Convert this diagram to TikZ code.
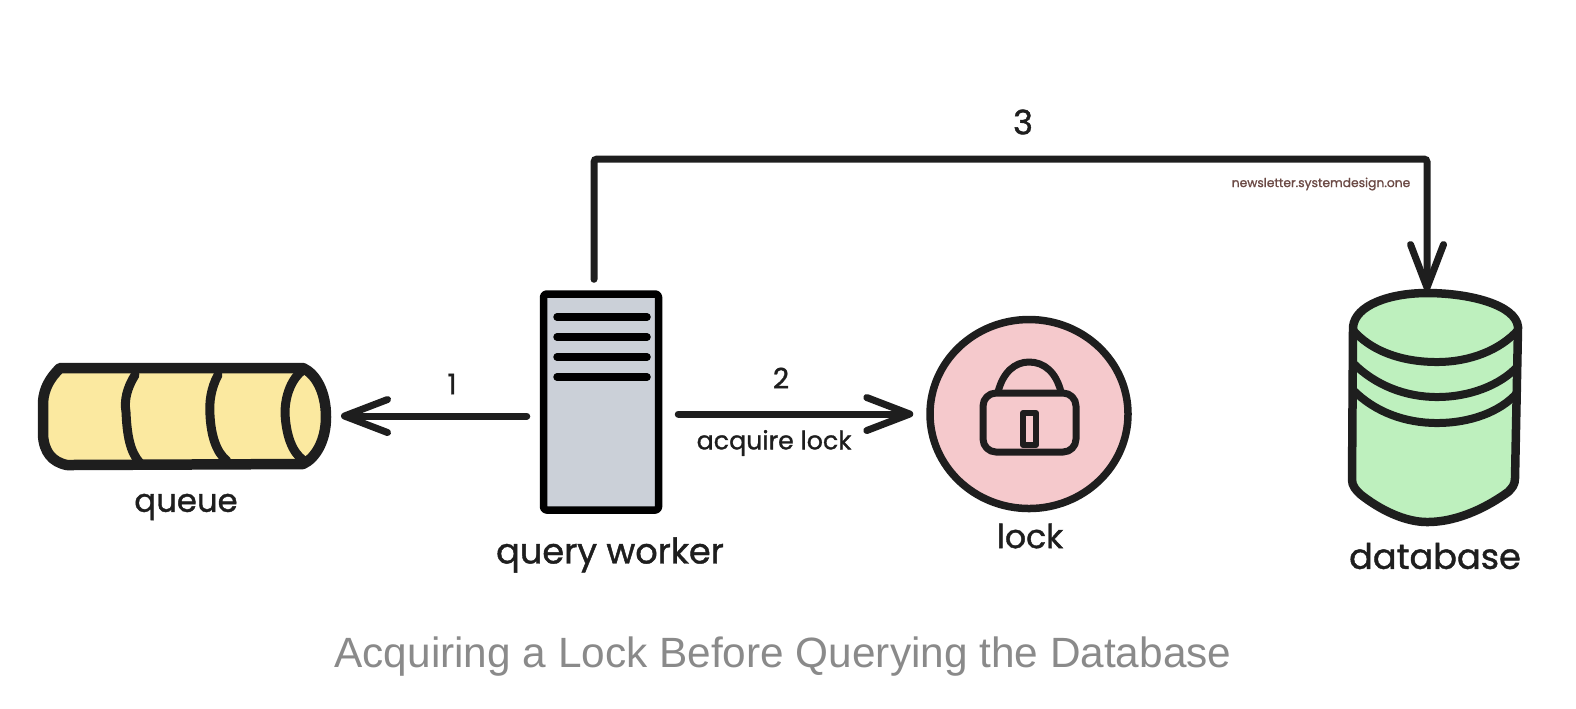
\documentclass[tikz,border=0pt]{standalone}
\usepackage{fontspec}
\setmainfont{Liberation Sans}
\newfontfamily\handfont[FakeBold=1.2]{Poppins}
\usetikzlibrary{arrows.meta,shapes.geometric}
\definecolor{inkline}{HTML}{1E1E1E}
\definecolor{queuefill}{HTML}{FBE9A0}
\definecolor{workerfill}{HTML}{CBD0D8}
\definecolor{lockfill}{HTML}{F5C9CC}
\definecolor{dbfill}{HTML}{BEF0BE}
\definecolor{markcolor}{HTML}{6B4A45}
\definecolor{captioncolor}{HTML}{8A8A8A}
\tikzset{
	sketch/.style={draw=inkline, line width=0.8mm, line join=round, line cap=round},
	flow/.style={draw=inkline, line width=0.7mm, line cap=round, -{Straight Barb[round,length=4.3mm,width=3.3mm]}},
	hand/.style={text=inkline, inner sep=0pt, font=\handfont\fontsize{#1}{#1}\selectfont},
	ghost/.style={inner sep=0pt, outer sep=0pt}
}
\begin{document}
\begin{tikzpicture}[x=0.1mm, y=-0.1mm]
	\useasboundingbox (0,0) rectangle (1576,708);

	% Queue
	\node[ghost, minimum width=29.2mm, minimum height=10.6mm] (queue) at (184,416) {};
	\filldraw[sketch, line width=1.05mm, fill=queuefill] (60,368) -- (303,368)
		.. controls (316,374) and (326,392) .. (326,417)
		.. controls (326,440) and (316,458) .. (303,464)
		-- (67,465) .. controls (52,462) and (44,452) .. (43,435)
		-- (43,402) .. controls (44,388) and (50,378) .. (60,368) -- cycle;
	\draw[sketch, line width=0.9mm] (135,375) .. controls (127,388) and (124,400) .. (126,412)
		.. controls (127,435) and (130,452) .. (140,463);
	\draw[sketch, line width=0.9mm] (218,375) .. controls (211,388) and (209,402) .. (210,415)
		.. controls (211,435) and (216,452) .. (227,461);
	\draw[sketch, line width=0.9mm] (303,370) .. controls (292,378) and (285,395) .. (285,413)
		.. controls (286,435) and (292,452) .. (303,460);

	% Query worker
	\node[sketch, draw=black, line width=0.75mm, fill=workerfill, rounded corners=0.3mm, minimum width=11.5mm, minimum height=21.6mm] (worker) at (601,402) {};
	\foreach \y in {317,337,357,377}
		\draw[line width=0.75mm, line cap=round, black] (557,\y) -- (647,\y);

	% Lock
	\node[sketch, ellipse, inner sep=0pt, line width=0.75mm, fill=lockfill, minimum width=19.8mm, minimum height=18.9mm] (lock) at (1029,414) {};
	\draw[sketch, line width=0.7mm] (998,392) .. controls (1003,372) and (1015,362) .. (1029,362)
		.. controls (1044,362) and (1056,372) .. (1061,392);
	\draw[sketch, line width=0.7mm, rounded corners=1.3mm] (983,393) rectangle (1076,452);
	\draw[sketch, line width=0.6mm] (1023,413) rectangle (1036,445);

	% Database
	\node[ghost, minimum width=16.4mm, minimum height=23.2mm] (database) at (1435,407) {};
	\filldraw[sketch, line width=0.85mm, fill=dbfill] (1353,327) -- (1352,480)
		.. controls (1352,486) and (1356,490) .. (1360,494)
		.. controls (1380,510) and (1405,522) .. (1427,522)
		.. controls (1460,522) and (1490,505) .. (1508,492)
		.. controls (1512,488) and (1515,485) .. (1515,478)
		-- (1518,327)
		.. controls (1516,305) and (1470,293) .. (1427,293)
		.. controls (1390,293) and (1355,305) .. (1353,327) -- cycle;
	\draw[sketch] (1353,330) .. controls (1370,350) and (1400,362) .. (1437,362)
		.. controls (1470,362) and (1500,350) .. (1518,330);
	\draw[sketch] (1353,363) .. controls (1375,385) and (1405,397) .. (1437,397)
		.. controls (1470,397) and (1500,385) .. (1517,367);
	\draw[sketch] (1353,390) .. controls (1375,412) and (1405,423) .. (1437,423)
		.. controls (1470,423) and (1500,412) .. (1517,393);

	% Connectors
	\coordinate (topbend) at (1023,159);
	\draw[flow, shorten <=1.3mm, shorten >=1.1mm] (worker.west |- queue.east) -- (queue.east);
	\draw[flow, shorten <=1.6mm, shorten >=1.3mm] (worker.east |- lock.west) -- (lock.west);
	\draw[flow, shorten <=1.1mm, rounded corners=0.3mm] ([xshift=-0.7mm]worker.north) |- (topbend) -| ([xshift=-0.8mm]database.north);

	% Labels
	\node[hand=8] (one) at (452,384) {1};
	\node[hand=8] (two) at (781,378) {2};
	\node[hand=9.6] (three) at (1023,122) {3};
	\node[hand=7.2] (acquire) at (774,443) {acquire lock};
	\node[hand=9.2] (queuelabel) at (186,507) {queue};
	\node[hand=10] (workerlabel) at (610,555) {query worker};
	\node[hand=9.4] (locklabel) at (1030,536) {lock};
	\node[hand=10] (dblabel) at (1435,556) {database};
	\node[hand=3.5, text=markcolor] (site) at (1321,184) {newsletter.systemdesign.one};
	\node[inner sep=0pt, text=captioncolor, font=\fontsize{12.05}{14}\selectfont] (caption) at (783,657) {Acquiring a Lock Before Querying the Database};
\end{tikzpicture}
\end{document}
